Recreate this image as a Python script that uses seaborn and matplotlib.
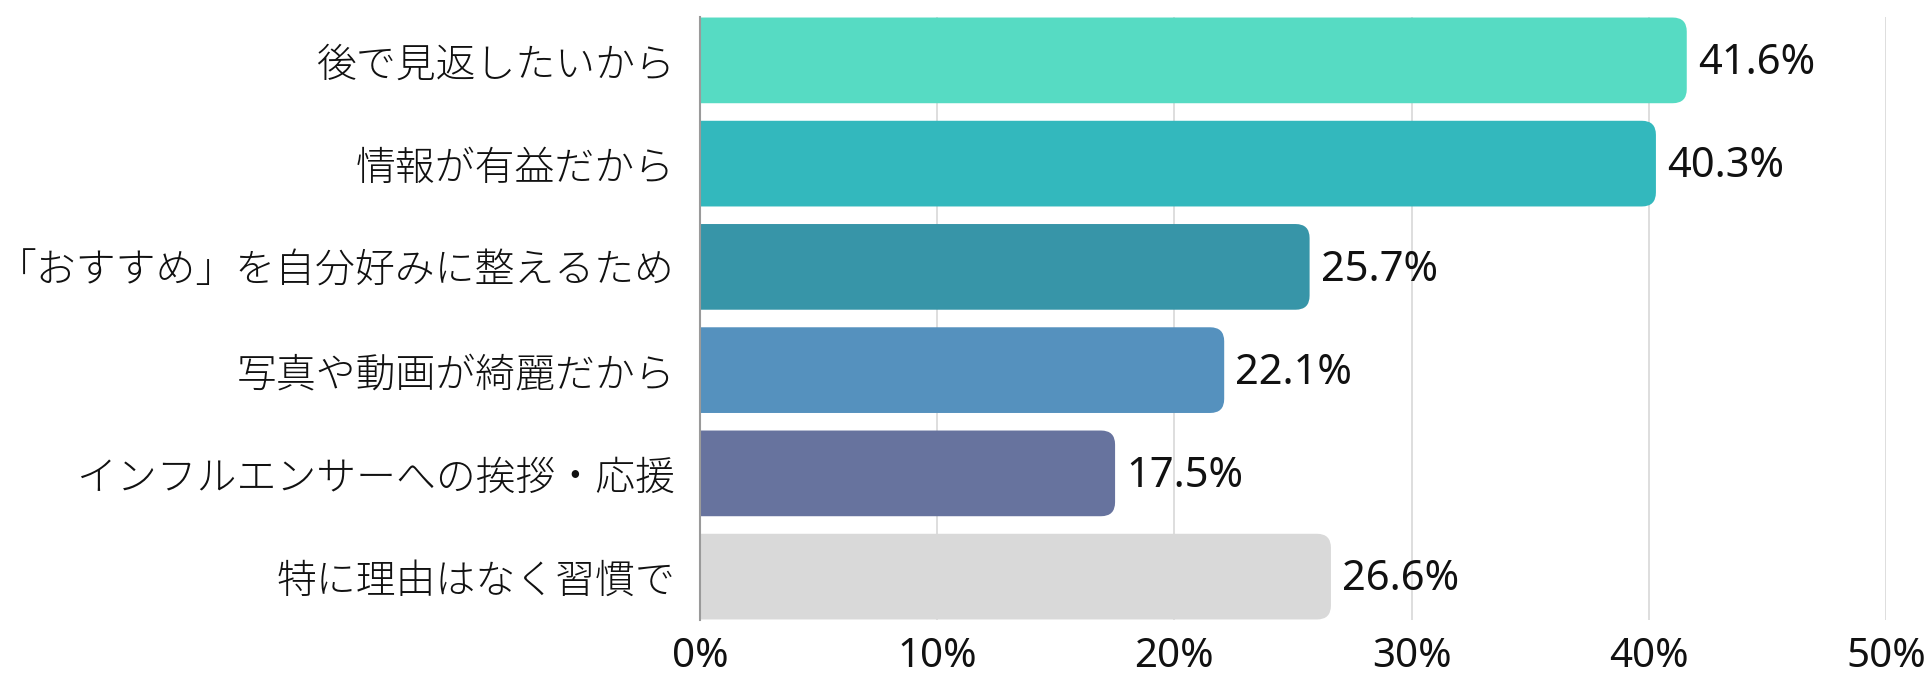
import matplotlib
matplotlib.use("Agg")
import matplotlib.pyplot as plt
import seaborn as sns
import pandas as pd
from matplotlib.patches import FancyBboxPatch
from matplotlib.transforms import IdentityTransform

categories = [
    "後で見返したいから",
    "情報が有益だから",
    "「おすすめ」を自分好みに整えるため",
    "写真や動画が綺麗だから",
    "インフルエンサーへの挨拶・応援",
    "特に理由はなく習慣で",
]
values = [41.6, 40.3, 25.7, 22.1, 17.5, 26.6]
colors = ["#56DBC3", "#33B8BD", "#3795A8", "#5591BE", "#67739E", "#D9D9D9"]
x_ticks = [0, 10, 20, 30, 40, 50]
x_tick_labels = ["0%", "10%", "20%", "30%", "40%", "50%"]

sns.set_theme(style="white")
plt.rcParams["font.family"] = ["Noto Sans CJK JP", "DejaVu Sans"]
latin = ["Noto Sans", "DejaVu Sans"]

df = pd.DataFrame({"reason": categories, "pct": values})

fig = plt.figure(figsize=(19.32, 6.75), dpi=100)
ax = fig.add_axes([0.3623, 0.0815, 0.6139, 0.8933])

sns.barplot(data=df, x="pct", y="reason", hue="reason", palette=colors,
            saturation=1, legend=False, width=0.83, ax=ax, zorder=2)

ax.set_xlim(0, 50)
ax.set_ylim(len(categories) - 0.58, -0.42)
ax.set_xticks(x_ticks)
ax.set_xticklabels(x_tick_labels, fontsize=29, color="#111111", family=latin,
                   fontweight="light")
ax.tick_params(axis="x", length=0, pad=12)
ax.tick_params(axis="y", length=0, pad=18)
for lbl in ax.get_yticklabels():
    lbl.set_fontsize(28.7)
    lbl.set_color("#111111")
    lbl.set_fontweight("light")
ax.set_xlabel("")
ax.set_ylabel("")
ax.xaxis.grid(True, color="#D4D4D4", linewidth=1.1, zorder=0)
ax.set_axisbelow(True)
for side in ["top", "right", "bottom"]:
    ax.spines[side].set_visible(False)
ax.spines["left"].set_color("#9A9A9A")
ax.spines["left"].set_linewidth(1.5)
ax.spines["left"].set_zorder(5)

# Replace the square bars with bars rounded at the value end
fig.canvas.draw()
to_disp = ax.transData
radius = 14
for patch in list(ax.patches):
    x0, y0 = patch.get_x(), patch.get_y()
    w, h = patch.get_width(), patch.get_height()
    (dx0, dy0) = to_disp.transform((x0, y0))
    (dx1, dy1) = to_disp.transform((x0 + w, y0 + h))
    left = dx0 - 3 * radius
    bottom = min(dy0, dy1)
    height = abs(dy1 - dy0)
    rounded = FancyBboxPatch(
        (left, bottom), dx1 - left, height,
        boxstyle=f"round,pad=0,rounding_size={radius}",
        transform=IdentityTransform(), facecolor=patch.get_facecolor(),
        edgecolor="none", zorder=2,
    )
    rounded.set_clip_path(ax.patch)
    ax.add_artist(rounded)
    patch.remove()

for i, v in enumerate(values):
    ax.annotate(f"{v:.1f}%", xy=(v, i), xytext=(8, -2),
                textcoords="offset points", ha="left", va="center",
                fontsize=30, color="#111111", family=latin,
                fontweight="light", zorder=4)

fig.savefig("out.png", dpi=100)
